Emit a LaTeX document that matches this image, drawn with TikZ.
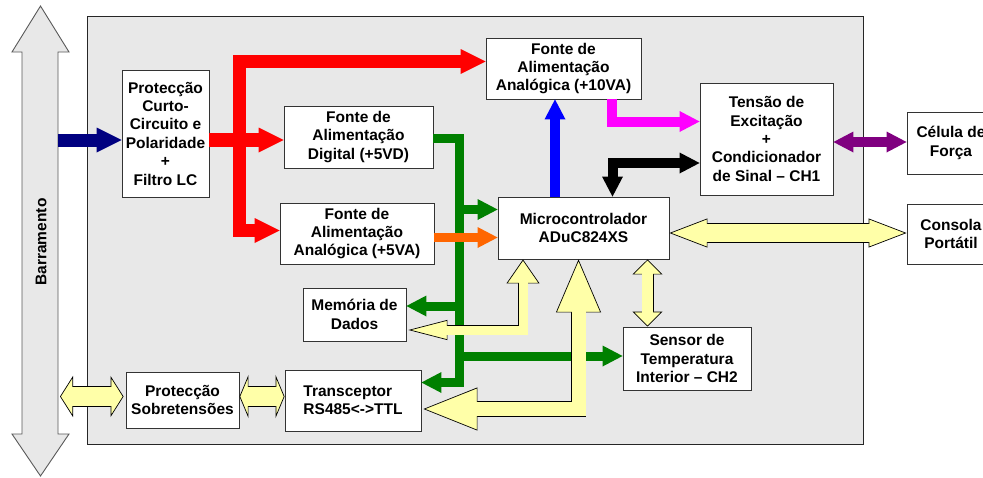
\documentclass[tikz,border=0pt]{standalone}
\usepackage{fontspec}
\setmainfont{Liberation Sans}
\usetikzlibrary{arrows.meta,calc}

\definecolor{bgray}{HTML}{E8E8E8}
\definecolor{ylw}{HTML}{FFFFA8}
\definecolor{navyb}{HTML}{000080}
\definecolor{grn}{HTML}{008000}
\definecolor{org}{HTML}{FF6600}
\definecolor{mag}{HTML}{FF00FF}
\definecolor{prp}{HTML}{800080}

\begin{document}
\begin{tikzpicture}[
  x=1pt,y=-1pt,
  font=\fontsize{15.5}{18.4}\selectfont\bfseries,
  box/.style={rectangle,draw=black!80,fill=white,line width=0.9pt,align=center,inner sep=0pt},
  fat/.style={line width=#1,line join=miter},
  Hd/.tip={Triangle[length=20pt,width=21pt,line width=0pt]},
  BigHd/.tip={Triangle[length=25pt,width=25pt,line width=0pt]},
  ybus/.style n args={3}{line width=#1+1.4pt,line join=miter,draw=black,
    postaction={draw=ylw,line width=#1,arrows=-,shorten <=#2,shorten >=#3}}
]

\useasboundingbox (0,0) rectangle (983,477);
\clip (0,0) rectangle (983,477);

% fundo
\draw[draw=black!85,fill=bgray,line width=0.9pt] (87,16) rectangle (863,444);

% barramento
\draw[fill=bgray,draw=black!65,line width=0.9pt] (40.5,6) -- (69,52) -- (58,52) -- (58,434)
  -- (69,434) -- (40.5,476) -- (12,434) -- (22,434) -- (22,52) -- (12,52) -- cycle;
\node[rotate=90] (bus) at (41,242) {Barramento};
\coordinate (busR) at (58,0);

% blocos
\node[box,minimum width=87pt,minimum height=127pt] (prot) at (165.5,133.5)
  {Protecção\\Curto-\\Circuito e\\Polaridade\\+\\Filtro LC};
\node[box,minimum width=149pt,minimum height=62pt] (fdig) at (358.5,137)
  {Fonte de\\Alimentação\\Digital (+5VD)};
\node[box,minimum width=154pt,minimum height=61pt] (fana5) at (357,233.5)
  {Fonte de\\Alimentação\\Analógica (+5VA)};
\node[box,minimum width=155pt,minimum height=61pt] (fana10) at (563.5,68.5)
  {Fonte de\\Alimentação\\Analógica (+10VA)};
\node[box,minimum width=171pt,minimum height=62pt] (mcu) at (583.5,228)
  {Microcontrolador\\ADuC824XS};
\node[box,minimum width=133pt,minimum height=112pt] (tens) at (766.5,139)
  {Tensão de\\Excitação\\+\\Condicionador\\de Sinal – CH1};
\node[box,minimum width=88pt,minimum height=62pt] (cel) at (951,143)
  {Célula de\\Força};
\node[box,minimum width=88pt,minimum height=60pt] (cons) at (951,234)
  {Consola\\Portátil};
\node[box,minimum width=128pt,minimum height=63pt] (sens) at (687,358.5)
  {Sensor de\\Temperatura\\Interior – CH2};
\node[box,minimum width=103pt,minimum height=53pt] (mem) at (354.5,314.5)
  {Memória de\\Dados};
\node[box,minimum width=136pt,minimum height=61pt,align=left] (trx) at (353,400.5)
  {Transceptor\\RS485<->TTL};
\node[box,minimum width=113pt,minimum height=56pt] (psob) at (182.5,400)
  {Protecção\\Sobretensões};

% alimentacao de entrada
\coordinate (pin) at ($(prot.west)+(0,6.5)$);
\draw[fat=13pt,navyb,-BigHd] (busR |- pin) -- (pin);

% vermelho
\coordinate (pout) at ($(prot.east)+(0,6.5)$);
\coordinate (rj) at (239.5,0);
\coordinate (r10) at ($(fana10.west)+(0,-7)$);
\coordinate (r5) at ($(fana5.west)+(0,-3)$);
\draw[fat=13.5pt,red,-BigHd] (pout) -- (pout -| fdig.west);
\draw[fat=13.5pt,red,-BigHd] (rj |- r5) |- (r10);
\draw[fat=13.5pt,red,-BigHd] (rj |- r10) |- (r5);

% verde
\coordinate (gout) at ($(fdig.east)+(0,1.5)$);
\coordinate (gx) at (459.5,0);
\coordinate (gtrx) at ($(trx.east)+(0,-18)$);
\coordinate (gmcu) at ($(mcu.west)+(0,-18.5)$);
\coordinate (gmem) at ($(mem.east)+(0,-8.5)$);
\coordinate (gsen) at ($(sens.west)+(0,-2.5)$);
\draw[fat=9pt,grn,-Hd] (gout) -| (gx |- gtrx) -- (gtrx);
\draw[fat=9pt,grn,-Hd] (gx |- gmcu) -- (gmcu);
\draw[fat=9pt,grn,-Hd] (gx |- gmem) -- (gmem);
\draw[fat=9pt,grn,-Hd] (gx |- gsen) -- (gsen);

% laranja, azul, magenta
\coordinate (o1) at ($(fana5.east)+(0,4)$);
\draw[fat=9pt,org,-Hd] (o1) -- (o1 -| mcu.west);
\coordinate (bx) at (555,0);
\draw[fat=10pt,blue,-Hd] (bx |- mcu.north) -- (bx |- fana10.south);
\coordinate (mx) at (612,0);
\coordinate (mtn) at ($(tens.west)+(0,-17.5)$);
\draw[fat=10pt,mag,-Hd] (mx |- fana10.south) |- (mtn);

% preto e roxo
\coordinate (kx) at (612.5,0);
\coordinate (ktn) at ($(tens.west)+(0,24)$);
\draw[fat=10pt,black,Hd-Hd] (kx |- mcu.north) |- (ktn);
\coordinate (pt) at ($(tens.east)+(0,3)$);
\draw[fat=10pt,prp,Hd-Hd] (pt) -- (pt -| cel.west);

% barramentos de dados
\coordinate (ybp) at ($(psob.west)+(0,-3.5)$);
\draw[ybus={19pt}{12pt}{12pt},
  {Triangle[color=black,fill=ylw,line width=0.7pt,length=13pt,width=41pt]}-{Triangle[color=black,fill=ylw,line width=0.7pt,length=13pt,width=41pt]}]
  ($(busR |- ybp)+(2,0)$) -- ($(ybp)+(-2,0)$);
\draw[ybus={19pt}{8pt}{8pt},
  {Triangle[color=black,fill=ylw,line width=0.7pt,length=9pt,width=43pt]}-{Triangle[color=black,fill=ylw,line width=0.7pt,length=9pt,width=43pt]}]
  (psob.east |- ybp) -- (trx.west |- ybp);
\coordinate (yc) at ($(mcu.east)+(0,5)$);
\draw[ybus={18pt}{37pt}{37pt},
  {Triangle[color=black,fill=ylw,line width=0.7pt,length=38pt,width=29pt]}-{Triangle[color=black,fill=ylw,line width=0.7pt,length=38pt,width=29pt]}]
  (yc) -- (yc -| cons.west);
\coordinate (ys) at ($(sens.north west)+(25,0)$);
\draw[ybus={10.5pt}{14pt}{14pt},
  {Triangle[color=black,fill=ylw,line width=0.7pt,length=15pt,width=30pt]}-{Triangle[color=black,fill=ylw,line width=0.7pt,length=15pt,width=30pt]}]
  (ys |- mcu.south) -- (ys);
\coordinate (ym) at (523,0);
\coordinate (ymm) at ($(mem.east)+(2,15.5)$);
\draw[ybus={9pt}{23pt}{38pt},
  {Triangle[color=black,fill=ylw,line width=0.7pt,length=24pt,width=33pt]}-{Triangle[color=black,fill=ylw,line width=0.7pt,length=39pt,width=20pt]}]
  (ym |- mcu.south) |- (ymm);
\coordinate (yt) at (578.5,0);
\coordinate (ytx) at ($(trx.east)+(2,8.5)$);
\draw[ybus={14pt}{52pt}{53pt},
  {Triangle[color=black,fill=ylw,line width=0.7pt,length=53pt,width=45pt]}-{Triangle[color=black,fill=ylw,line width=0.7pt,length=54pt,width=43pt]}]
  (yt |- mcu.south) |- (ytx);

\end{tikzpicture}
\end{document}
